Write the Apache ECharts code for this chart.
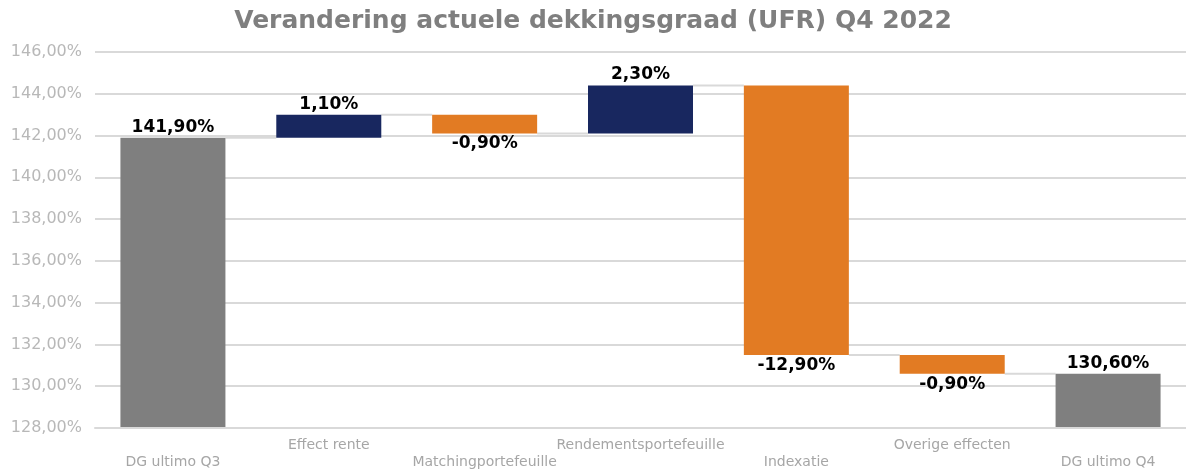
<!DOCTYPE html>
<html>
<head>
<meta charset="utf-8">
<script src="https://cdn.jsdelivr.net/npm/echarts@6/dist/echarts.min.js"></script>
<style>
    html, body { margin: 0; padding: 0; background: #fff; }
    #chart { width: 1186px; height: 471px; }
</style>
</head>
<body>
<div id="chart"></div>
<script>
// Gegevens
const categorieen = ['DG ultimo Q3', 'Effect rente', 'Matchingportefeuille', 'Rendementsportefeuille', 'Indexatie', 'Overige effecten', 'DG ultimo Q4'];
const waarden = [141.9, 1.1, -0.9, 2.3, -12.9, -0.9, 130.6];
const isTotaal = [true, false, false, false, false, false, true];

const kleurTotaal = '#7f7f7f';
const kleurPlus = '#18275f';
const kleurMin = '#e27b23';
const lettertype = '"DejaVu Sans", Verdana, sans-serif';
const balkBreedte = 105;

// Waterval opbouwen
const basis = [];
const zichtbaar = [];
const niveaus = [];
let lopend = 0;
waarden.forEach(function(v, i) {
    if (isTotaal[i]) {
        lopend = v;
        basis.push(0);
        zichtbaar.push({
            value: v,
            itemStyle: { color: kleurTotaal },
            label: { position: 'top' },
            delta: v
        });
    } else {
        const start = lopend;
        lopend = +(lopend + v).toFixed(4);
        basis.push(Math.min(start, lopend));
        zichtbaar.push({
            value: Math.abs(v),
            itemStyle: { color: v >= 0 ? kleurPlus : kleurMin },
            label: { position: v >= 0 ? 'top' : 'bottom' },
            delta: v
        });
    }
    niveaus.push(lopend);
});

const verbinders = [];
for (let i = 0; i < niveaus.length - 1; i++) {
    verbinders.push([i, niveaus[i]]);
}

function fmt(v) {
    return v.toFixed(2).replace('.', ',') + '%';
}

const chart = echarts.init(document.getElementById('chart'));

chart.setOption({
    animation: false,
    title: {
        text: 'Verandering actuele dekkingsgraad (UFR) Q4 2022',
        left: 'center',
        top: 4,
        textStyle: {
            fontFamily: lettertype,
            fontSize: 25,
            fontWeight: 'bold',
            color: '#7f7f7f'
        }
    },
    grid: {
        left: 95,
        right: -6,
        top: 52,
        bottom: 43
    },
    xAxis: {
        type: 'category',
        data: categorieen,
        z: 3,
        axisLine: { lineStyle: { color: '#d9d9d9', width: 2 } },
        axisTick: { show: false },
        axisLabel: {
            interval: 0,
            margin: 9,
            fontFamily: lettertype,
            fontSize: 14,
            lineHeight: 17,
            color: '#a6a6a6',
            formatter: function(v, i) {
                return i % 2 === 0 ? '\n' + v : v;
            }
        }
    },
    yAxis: {
        type: 'value',
        min: 128,
        max: 146,
        interval: 2,
        axisLine: { show: false },
        axisTick: { show: false },
        splitLine: { lineStyle: { color: '#d9d9d9', width: 2 } },
        axisLabel: {
            margin: 13,
            fontFamily: lettertype,
            fontSize: 16,
            color: '#b8b8b8',
            formatter: function(v) { return fmt(v); }
        }
    },
    series: [
        {
            type: 'custom',
            z: 1,
            silent: true,
            data: verbinders,
            renderItem: function(params, api) {
                const p1 = api.coord([api.value(0), api.value(1)]);
                const p2 = api.coord([api.value(0) + 1, api.value(1)]);
                return {
                    type: 'line',
                    shape: { x1: p1[0] + balkBreedte / 2, y1: p1[1], x2: p2[0] - balkBreedte / 2, y2: p2[1] },
                    style: { stroke: '#d9d9d9', lineWidth: 2 }
                };
            }
        },
        {
            type: 'bar',
            stack: 'w',
            z: 2,
            barWidth: balkBreedte,
            silent: true,
            itemStyle: { color: 'transparent' },
            data: basis
        },
        {
            type: 'bar',
            stack: 'w',
            z: 2,
            barWidth: balkBreedte,
            data: zichtbaar,
            label: {
                show: true,
                distance: 2,
                fontFamily: lettertype,
                fontSize: 17,
                fontWeight: 'bold',
                color: '#000',
                formatter: function(p) { return fmt(p.data.delta); }
            }
        }
    ]
});
</script>
</body>
</html>
